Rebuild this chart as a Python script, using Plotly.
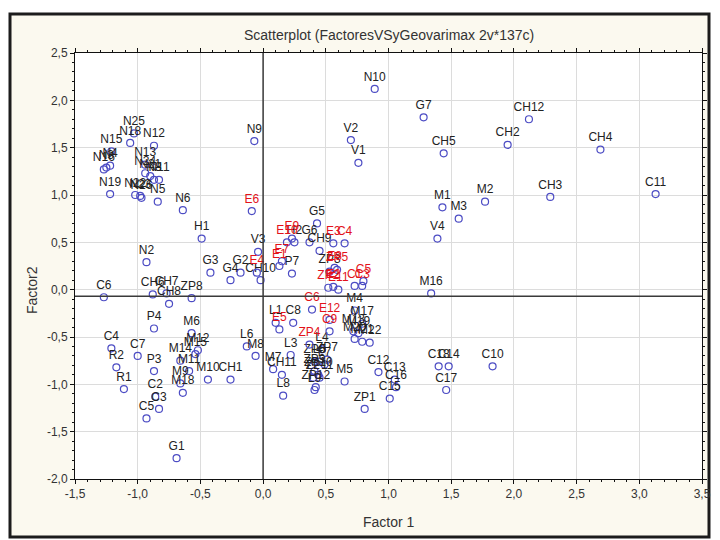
import plotly.graph_objects as go

# ---- data ----
black_names = [
    "N25", "N18", "N15", "N12", "N13", "N16", "N3", "N4", "N24", "N21", "N8", "N11",
    "N19", "N22", "N23", "N26", "N5", "N6", "N9", "N10", "N2",
    "G7", "V2", "V1", "CH5", "CH12", "CH2", "CH4", "M1", "M2", "M3", "CH3", "C11",
    "V4", "M16", "C18", "C14", "C17", "C10",
    "H1", "C6", "V3", "G3", "G2", "G4", "CH10", "CH7", "CH6", "CH8", "ZP8", "P4", "M6",
    "C4", "L6", "M8",
    "C7", "R2", "R1", "P3", "M14", "M15", "M12", "M11", "M10", "CH1", "C2", "M9", "M18",
    "C3", "C5", "G1",
    "G5", "H2", "G6", "CH9", "P7", "ZP3", "M4", "M17", "M13", "M19", "M20", "M21", "M22",
    "C8", "L1", "L4", "L3", "M7", "CH11", "L8",
    "ZP6", "L5", "ZP7", "L7", "ZP9", "ZP10", "L2", "ZP11", "ZP12", "L9",
    "M5", "C12", "C13", "C16", "C15", "ZP1",
]
black_x = [
    -1.03, -1.06, -1.21, -0.87, -0.94, -1.27, -1.25, -1.22, -0.94, -0.90, -0.87, -0.83,
    -1.22, -1.02, -0.98, -0.97, -0.84, -0.64, -0.07, 0.89, -0.93,
    1.28, 0.70, 0.76, 1.44, 2.12, 1.95, 2.69, 1.43, 1.77, 1.56, 2.29, 3.13,
    1.39, 1.34, 1.40, 1.48, 1.46, 1.83,
    -0.49, -1.27, -0.04, -0.42, -0.18, -0.26, -0.02, -0.77, -0.88, -0.75, -0.57, -0.87, -0.57,
    -1.21, -0.13, -0.06,
    -1.00, -1.17, -1.11, -0.87, -0.66, -0.54, -0.52, -0.59, -0.44, -0.26, -0.86, -0.66, -0.64,
    -0.83, -0.93, -0.69,
    0.43, 0.25, 0.37, 0.45, 0.23, 0.53, 0.73, 0.79, 0.72, 0.76, 0.73, 0.79, 0.85,
    0.24, 0.10, 0.47, 0.22, 0.08, 0.15, 0.16,
    0.41, 0.45, 0.51, 0.49, 0.41, 0.44, 0.40, 0.45, 0.42, 0.41,
    0.65, 0.92, 1.05, 1.06, 1.01, 0.81,
]
black_y = [
    1.65, 1.55, 1.46, 1.52, 1.32, 1.27, 1.29, 1.31, 1.23, 1.20, 1.16, 1.16,
    1.01, 1.00, 0.99, 0.97, 0.93, 0.84, 1.57, 2.12, 0.29,
    1.82, 1.58, 1.34, 1.44, 1.80, 1.53, 1.48, 0.87, 0.93, 0.75, 0.98, 1.01,
    0.54, -0.04, -0.81, -0.81, -1.06, -0.81,
    0.54, -0.08, 0.40, 0.18, 0.18, 0.10, 0.10, -0.04, -0.05, -0.15, -0.09, -0.41, -0.46,
    -0.62, -0.60, -0.70,
    -0.70, -0.82, -1.05, -0.86, -0.75, -0.68, -0.64, -0.86, -0.95, -0.95, -1.13, -0.99, -1.09,
    -1.26, -1.36, -1.78,
    0.70, 0.50, 0.50, 0.41, 0.17, 0.19, -0.22, -0.36, -0.44, -0.46, -0.52, -0.55, -0.56,
    -0.35, -0.35, -0.63, -0.69, -0.84, -0.90, -1.12,
    -0.76, -0.76, -0.74, -0.79, -0.86, -0.90, -0.93, -0.93, -1.03, -1.06,
    -0.97, -0.87, -0.95, -1.03, -1.15, -1.26,
]

red_names = ["E6", "E4", "E10", "E9", "E3", "C4", "E7", "E1", "E8", "ZP5", "ZP2", "E2",
             "E11", "C1", "C3", "C5", "C6", "E12", "E5", "C9", "ZP4"]
red_x = [-0.09, -0.05, 0.19, 0.23, 0.56, 0.65, 0.15, 0.13, 0.57, 0.59, 0.52, 0.56,
         0.60, 0.73, 0.79, 0.80, 0.39, 0.53, 0.13, 0.53, 0.37]
red_y = [0.83, 0.18, 0.50, 0.54, 0.49, 0.49, 0.30, 0.25, 0.23, 0.21, 0.02, 0.03,
         0.00, 0.04, 0.04, 0.09, -0.21, -0.32, -0.42, -0.44, -0.58]

x_ticks = [-1.5, -1.0, -0.5, 0.0, 0.5, 1.0, 1.5, 2.0, 2.5, 3.0, 3.5]
y_ticks = [-2.0, -1.5, -1.0, -0.5, 0.0, 0.5, 1.0, 1.5, 2.0, 2.5]
x_ticktext = ["-1,5", "-1,0", "-0,5", "0,0", "0,5", "1,0", "1,5", "2,0", "2,5", "3,0", "3,5"]
y_ticktext = ["-2,0", "-1,5", "-1,0", "-0,5", "0,0", "0,5", "1,0", "1,5", "2,0", "2,5"]

title_text = "Scatterplot (FactoresVSyGeovarimax 2v*137c)"
x_title = "Factor 1"
y_title = "Factor2"
ref_x = 0.0
ref_y = -0.07

# ---- styles / layout (page body has an 8px margin, so the figure is offset) ----
FONT = "Liberation Sans, Arial, sans-serif"
MARKER_COLOR = "#4c4cc4"
OFF = 8
W, H = 720 - OFF, 540 - OFF
L, T = 75 - OFF, 53 - OFF
PW, PH = 627, 426
R = W - L - PW
B = H - T - PH


def px_to_paper_x(px):
    return (px - OFF - L) / PW


def px_to_paper_y(py):
    return (T + PH - (py - OFF)) / PH


marker = dict(symbol="circle-open", size=7, color=MARKER_COLOR, line=dict(width=1.2, color=MARKER_COLOR))

fig = go.Figure()
fig.add_trace(go.Scatter(
    x=black_x, y=black_y, text=black_names, mode="markers+text",
    textposition="top center", marker=marker,
    textfont=dict(family=FONT, size=12, color="#222222"),
    hoverinfo="text", showlegend=False, cliponaxis=False,
))
fig.add_trace(go.Scatter(
    x=red_x, y=red_y, text=red_names, mode="markers+text",
    textposition="top center", marker=marker,
    textfont=dict(family=FONT, size=12, color="#e3121a"),
    hoverinfo="text", showlegend=False, cliponaxis=False,
))

axis_common = dict(
    showline=True, linecolor="#111111", linewidth=1, mirror="ticks",
    ticks="outside", ticklen=4, tickcolor="#111111",
    showgrid=True, gridcolor="#dcdcdc", gridwidth=1, zeroline=False,
    tickfont=dict(family=FONT, size=12, color="#333333"),
)
fig.update_xaxes(range=[-1.5, 3.5], tickmode="array", tickvals=x_ticks, ticktext=x_ticktext,
                 minor=dict(ticks="outside", ticklen=2, dtick=0.1, tick0=-1.5, tickcolor="#111111", showgrid=False),
                 **axis_common)
fig.update_yaxes(range=[-2.0, 2.5], tickmode="array", tickvals=y_ticks, ticktext=y_ticktext,
                 minor=dict(ticks="outside", ticklen=2, dtick=0.1, tick0=-2.0, tickcolor="#111111", showgrid=False),
                 **axis_common)

shapes = [
    dict(type="rect", xref="paper", yref="paper", layer="below",
         x0=px_to_paper_x(10), x1=px_to_paper_x(709), y0=px_to_paper_y(537), y1=px_to_paper_y(14),
         fillcolor="#fbf9ef", line=dict(color="#1c1c1c", width=3)),
    dict(type="rect", xref="paper", yref="paper", layer="below",
         x0=0, x1=1, y0=0, y1=1, fillcolor="white", line=dict(width=0)),
    dict(type="line", xref="x", yref="paper", x0=ref_x, x1=ref_x, y0=0, y1=1,
         line=dict(color="#3a3a3a", width=1.5)),
    dict(type="line", xref="paper", yref="y", x0=0, x1=1, y0=ref_y, y1=ref_y,
         line=dict(color="#3a3a3a", width=1.5)),
]

annotations = [
    dict(text=title_text, xref="paper", yref="paper", x=0.5, y=px_to_paper_y(35),
         showarrow=False, font=dict(family=FONT, size=14, color="#333333"), xanchor="center", yanchor="middle"),
    dict(text=x_title, xref="paper", yref="paper", x=0.5, y=px_to_paper_y(522),
         showarrow=False, font=dict(family=FONT, size=14, color="#333333"), xanchor="center", yanchor="middle"),
    dict(text=y_title, xref="paper", yref="paper", x=px_to_paper_x(32), y=px_to_paper_y(290),
         showarrow=False, textangle=-90, font=dict(family=FONT, size=14, color="#333333"),
         xanchor="center", yanchor="middle"),
]

fig.update_layout(
    width=W, height=H, margin=dict(l=L, r=R, t=T, b=B, autoexpand=False),
    paper_bgcolor="white", plot_bgcolor="white",
    shapes=shapes, annotations=annotations, showlegend=False,
    font=dict(family=FONT),
)

fig.write_html("out.html")
